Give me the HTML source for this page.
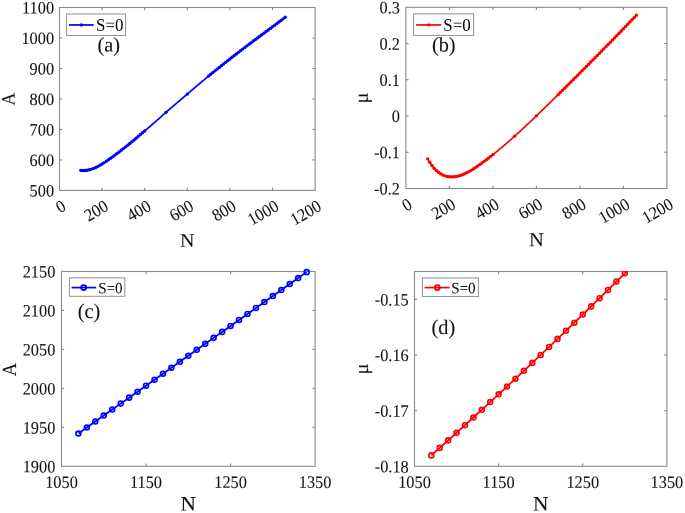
<!DOCTYPE html>
<html><head><meta charset="utf-8"><style>
html,body{margin:0;padding:0;background:#fff;}
svg{display:block;}
</style></head><body>
<svg style="will-change:transform" width="685" height="513" viewBox="0 0 685 513" font-family='"Liberation Serif", serif'>
<rect width="685" height="513" fill="#fff"/>
<g stroke="#858585" stroke-width="1.1">
<line x1="102.10" y1="190.40" x2="102.10" y2="187.70"/>
<line x1="102.10" y1="7.50" x2="102.10" y2="10.20"/>
<line x1="144.70" y1="190.40" x2="144.70" y2="187.70"/>
<line x1="144.70" y1="7.50" x2="144.70" y2="10.20"/>
<line x1="187.30" y1="190.40" x2="187.30" y2="187.70"/>
<line x1="187.30" y1="7.50" x2="187.30" y2="10.20"/>
<line x1="229.90" y1="190.40" x2="229.90" y2="187.70"/>
<line x1="229.90" y1="7.50" x2="229.90" y2="10.20"/>
<line x1="272.50" y1="190.40" x2="272.50" y2="187.70"/>
<line x1="272.50" y1="7.50" x2="272.50" y2="10.20"/>
<line x1="59.50" y1="159.92" x2="62.20" y2="159.92"/>
<line x1="315.10" y1="159.92" x2="312.40" y2="159.92"/>
<line x1="59.50" y1="129.43" x2="62.20" y2="129.43"/>
<line x1="315.10" y1="129.43" x2="312.40" y2="129.43"/>
<line x1="59.50" y1="98.95" x2="62.20" y2="98.95"/>
<line x1="315.10" y1="98.95" x2="312.40" y2="98.95"/>
<line x1="59.50" y1="68.47" x2="62.20" y2="68.47"/>
<line x1="315.10" y1="68.47" x2="312.40" y2="68.47"/>
<line x1="59.50" y1="37.98" x2="62.20" y2="37.98"/>
<line x1="315.10" y1="37.98" x2="312.40" y2="37.98"/>
</g>
<rect x="59.50" y="7.50" width="255.60" height="182.90" fill="none" stroke="#8a8a8a" stroke-width="1.1"/>
<g stroke="#858585" stroke-width="1.1">
<line x1="449.40" y1="188.50" x2="449.40" y2="185.80"/>
<line x1="449.40" y1="7.30" x2="449.40" y2="10.00"/>
<line x1="492.90" y1="188.50" x2="492.90" y2="185.80"/>
<line x1="492.90" y1="7.30" x2="492.90" y2="10.00"/>
<line x1="536.40" y1="188.50" x2="536.40" y2="185.80"/>
<line x1="536.40" y1="7.30" x2="536.40" y2="10.00"/>
<line x1="579.90" y1="188.50" x2="579.90" y2="185.80"/>
<line x1="579.90" y1="7.30" x2="579.90" y2="10.00"/>
<line x1="623.40" y1="188.50" x2="623.40" y2="185.80"/>
<line x1="623.40" y1="7.30" x2="623.40" y2="10.00"/>
<line x1="405.90" y1="152.26" x2="408.60" y2="152.26"/>
<line x1="666.90" y1="152.26" x2="664.20" y2="152.26"/>
<line x1="405.90" y1="116.02" x2="408.60" y2="116.02"/>
<line x1="666.90" y1="116.02" x2="664.20" y2="116.02"/>
<line x1="405.90" y1="79.78" x2="408.60" y2="79.78"/>
<line x1="666.90" y1="79.78" x2="664.20" y2="79.78"/>
<line x1="405.90" y1="43.54" x2="408.60" y2="43.54"/>
<line x1="666.90" y1="43.54" x2="664.20" y2="43.54"/>
</g>
<rect x="405.90" y="7.30" width="261.00" height="181.20" fill="none" stroke="#8a8a8a" stroke-width="1.1"/>
<g stroke="#858585" stroke-width="1.1">
<line x1="146.03" y1="466.30" x2="146.03" y2="463.60"/>
<line x1="146.03" y1="271.50" x2="146.03" y2="274.20"/>
<line x1="230.57" y1="466.30" x2="230.57" y2="463.60"/>
<line x1="230.57" y1="271.50" x2="230.57" y2="274.20"/>
<line x1="61.50" y1="427.34" x2="64.20" y2="427.34"/>
<line x1="315.10" y1="427.34" x2="312.40" y2="427.34"/>
<line x1="61.50" y1="388.38" x2="64.20" y2="388.38"/>
<line x1="315.10" y1="388.38" x2="312.40" y2="388.38"/>
<line x1="61.50" y1="349.42" x2="64.20" y2="349.42"/>
<line x1="315.10" y1="349.42" x2="312.40" y2="349.42"/>
<line x1="61.50" y1="310.46" x2="64.20" y2="310.46"/>
<line x1="315.10" y1="310.46" x2="312.40" y2="310.46"/>
</g>
<rect x="61.50" y="271.50" width="253.60" height="194.80" fill="none" stroke="#8a8a8a" stroke-width="1.1"/>
<g stroke="#858585" stroke-width="1.1">
<line x1="498.63" y1="466.30" x2="498.63" y2="463.60"/>
<line x1="498.63" y1="271.50" x2="498.63" y2="274.20"/>
<line x1="582.77" y1="466.30" x2="582.77" y2="463.60"/>
<line x1="582.77" y1="271.50" x2="582.77" y2="274.20"/>
<line x1="414.50" y1="410.64" x2="417.20" y2="410.64"/>
<line x1="666.90" y1="410.64" x2="664.20" y2="410.64"/>
<line x1="414.50" y1="354.99" x2="417.20" y2="354.99"/>
<line x1="666.90" y1="354.99" x2="664.20" y2="354.99"/>
<line x1="414.50" y1="299.33" x2="417.20" y2="299.33"/>
<line x1="666.90" y1="299.33" x2="664.20" y2="299.33"/>
</g>
<rect x="414.50" y="271.50" width="252.40" height="194.80" fill="none" stroke="#8a8a8a" stroke-width="1.1"/>
<polyline points="80.80,170.36 81.31,170.42 81.82,170.47 82.34,170.51 82.85,170.53 83.36,170.54 83.87,170.54 84.39,170.52 84.90,170.50 85.41,170.46 85.92,170.40 86.44,170.34 86.95,170.26 87.46,170.17 87.97,170.08 88.49,169.97 89.00,169.85 89.51,169.72 90.02,169.58 90.54,169.43 91.05,169.27 91.56,169.10 92.07,168.92 92.59,168.74 93.10,168.54 93.61,168.34 94.12,168.13 94.64,167.91 95.15,167.68 95.66,167.45 96.17,167.21 96.69,166.96 97.20,166.71 97.71,166.45 98.22,166.18 98.74,165.91 99.25,165.64 99.76,165.35 100.27,165.06 100.79,164.75 101.30,164.44 101.81,164.12 102.32,163.80 102.84,163.47 103.35,163.15 103.86,162.82 104.37,162.48 104.89,162.15 105.40,161.81 105.91,161.46 106.42,161.12 106.94,160.77 107.45,160.43 107.96,160.08 108.47,159.72 108.99,159.37 109.50,159.01 110.01,158.65 110.52,158.29 111.04,157.93 111.55,157.56 112.06,157.19 112.57,156.83 113.09,156.45 113.60,156.08 114.11,155.71 114.62,155.33 115.14,154.95 115.65,154.57 116.16,154.19 116.67,153.80 117.19,153.42 117.70,153.03 118.21,152.64 118.72,152.25 119.24,151.86 119.75,151.46 120.26,151.07 120.77,150.67 121.29,150.27 121.80,149.87 122.31,149.47 122.82,149.07 123.34,148.66 123.85,148.26 124.36,147.85 124.87,147.44 125.39,147.03 125.90,146.62 126.41,146.21 126.92,145.80 127.44,145.38 127.95,144.97 128.46,144.55 128.97,144.13 129.49,143.72 130.00,143.30 130.51,142.88 131.02,142.45 131.54,142.03 132.05,141.61 132.56,141.18 133.07,140.76 133.59,140.33 134.10,139.91 134.61,139.48 135.12,139.05 135.64,138.62 136.15,138.19 136.66,137.76 137.17,137.33 137.69,136.90 138.20,136.47 138.71,136.04 139.22,135.60 139.74,135.17 140.25,134.74 140.76,134.30 141.27,133.87 141.79,133.43 142.30,133.00 142.81,132.56 143.32,132.12 143.84,131.69 144.35,131.25 144.86,130.81 145.37,130.37 145.89,129.93 146.40,129.49 146.91,129.06 147.42,128.62 147.94,128.18 148.45,127.74 148.96,127.29 149.47,126.85 149.98,126.41 150.50,125.97 151.01,125.53 151.52,125.09 152.03,124.64 152.55,124.20 153.06,123.76 153.57,123.32 154.08,122.87 154.60,122.43 155.11,121.98 155.62,121.54 156.13,121.09 156.65,120.63 157.16,120.18 157.67,119.73 158.18,119.28 158.70,118.83 159.21,118.37 159.72,117.92 160.23,117.47 160.75,117.02 161.26,116.56 161.77,116.11 162.28,115.66 162.80,115.20 163.31,114.75 163.82,114.30 164.33,113.84 164.85,113.39 165.36,112.94 165.87,112.48 166.38,112.03 166.90,111.58 167.41,111.12 167.92,110.67 168.43,110.22 168.95,109.76 169.46,109.31 169.97,108.85 170.48,108.41 171.00,107.97 171.51,107.53 172.02,107.09 172.53,106.66 173.05,106.22 173.56,105.78 174.07,105.34 174.58,104.91 175.10,104.47 175.61,104.03 176.12,103.60 176.63,103.16 177.15,102.72 177.66,102.29 178.17,101.85 178.68,101.41 179.20,100.98 179.71,100.54 180.22,100.10 180.73,99.67 181.25,99.23 181.76,98.80 182.27,98.36 182.78,97.93 183.30,97.49 183.81,97.06 184.32,96.63 184.83,96.19 185.35,95.76 185.86,95.33 186.37,94.89 186.88,94.46 187.40,94.03 187.91,93.58 188.42,93.14 188.93,92.70 189.45,92.26 189.96,91.82 190.47,91.38 190.98,90.93 191.50,90.49 192.01,90.05 192.52,89.62 193.03,89.18 193.55,88.74 194.06,88.30 194.57,87.86 195.08,87.42 195.60,86.99 196.11,86.55 196.62,86.11 197.13,85.68 197.65,85.24 198.16,84.81 198.67,84.38 199.18,83.94 199.70,83.51 200.21,83.08 200.72,82.64 201.23,82.21 201.75,81.78 202.26,81.35 202.77,80.92 203.28,80.49 203.80,80.06 204.31,79.63 204.82,79.21 205.33,78.78 205.85,78.35 206.36,77.93 206.87,77.50 207.38,77.08 207.90,76.65 208.41,76.23 208.92,75.81 209.43,75.38 209.95,74.96 210.46,74.54 210.97,74.12 211.48,73.70 212.00,73.28 212.51,72.86 213.02,72.45 213.53,72.03 214.05,71.61 214.56,71.20 215.07,70.78 215.58,70.37 216.10,69.95 216.61,69.54 217.12,69.13 217.63,68.71 218.14,68.30 218.66,67.89 219.17,67.48 219.68,67.07 220.19,66.66 220.71,66.25 221.22,65.84 221.73,65.43 222.24,65.02 222.76,64.62 223.27,64.21 223.78,63.80 224.29,63.39 224.81,62.99 225.32,62.58 225.83,62.18 226.34,61.77 226.86,61.37 227.37,60.96 227.88,60.56 228.39,60.16 228.91,59.76 229.42,59.35 229.93,58.95 230.44,58.55 230.96,58.15 231.47,57.75 231.98,57.35 232.49,56.95 233.01,56.55 233.52,56.16 234.03,55.76 234.54,55.36 235.06,54.96 235.57,54.57 236.08,54.17 236.59,53.78 237.11,53.38 237.62,52.99 238.13,52.59 238.64,52.20 239.16,51.80 239.67,51.41 240.18,51.02 240.69,50.63 241.21,50.23 241.72,49.84 242.23,49.45 242.74,49.06 243.26,48.67 243.77,48.28 244.28,47.89 244.79,47.50 245.31,47.11 245.82,46.72 246.33,46.33 246.84,45.95 247.36,45.56 247.87,45.17 248.38,44.78 248.89,44.40 249.41,44.01 249.92,43.63 250.43,43.24 250.94,42.85 251.46,42.47 251.97,42.08 252.48,41.70 252.99,41.32 253.51,40.93 254.02,40.55 254.53,40.16 255.04,39.78 255.56,39.40 256.07,39.02 256.58,38.63 257.09,38.25 257.61,37.87 258.12,37.49 258.63,37.11 259.14,36.73 259.66,36.35 260.17,35.97 260.68,35.58 261.19,35.20 261.71,34.82 262.22,34.45 262.73,34.07 263.24,33.69 263.76,33.31 264.27,32.93 264.78,32.55 265.29,32.17 265.81,31.79 266.32,31.41 266.83,31.03 267.34,30.64 267.86,30.26 268.37,29.87 268.88,29.49 269.39,29.11 269.91,28.72 270.42,28.34 270.93,27.96 271.44,27.58 271.96,27.19 272.47,26.81 272.98,26.43 273.49,26.05 274.01,25.66 274.52,25.28 275.03,24.90 275.54,24.52 276.06,24.14 276.57,23.76 277.08,23.37 277.59,22.99 278.11,22.61 278.62,22.23 279.13,21.85 279.64,21.47 280.16,21.09 280.67,20.71 281.18,20.33 281.69,19.95 282.21,19.56 282.72,19.18 283.23,18.80 283.74,18.42 284.26,18.04 284.77,17.66 285.28,17.28" fill="none" stroke="#0000ff" stroke-width="1.7" stroke-linejoin="round" stroke-linecap="round"/>
<g fill="#0000ff"><circle cx="80.80" cy="170.36" r="1.7"/><circle cx="82.93" cy="170.54" r="1.7"/><circle cx="85.06" cy="170.48" r="1.7"/><circle cx="87.19" cy="170.22" r="1.7"/><circle cx="89.32" cy="169.77" r="1.7"/><circle cx="91.45" cy="169.14" r="1.7"/><circle cx="93.58" cy="168.35" r="1.7"/><circle cx="95.71" cy="167.43" r="1.7"/><circle cx="97.84" cy="166.38" r="1.7"/><circle cx="99.97" cy="165.24" r="1.7"/><circle cx="102.10" cy="163.94" r="1.7"/><circle cx="104.23" cy="162.58" r="1.7"/><circle cx="106.36" cy="161.16" r="1.7"/><circle cx="108.49" cy="159.71" r="1.7"/><circle cx="110.62" cy="158.22" r="1.7"/><circle cx="112.75" cy="156.70" r="1.7"/><circle cx="114.88" cy="155.14" r="1.7"/><circle cx="117.01" cy="153.55" r="1.7"/><circle cx="119.14" cy="151.93" r="1.7"/><circle cx="121.27" cy="150.29" r="1.7"/><circle cx="123.40" cy="148.61" r="1.7"/><circle cx="125.53" cy="146.92" r="1.7"/><circle cx="127.66" cy="145.20" r="1.7"/><circle cx="129.79" cy="143.47" r="1.7"/><circle cx="131.92" cy="141.71" r="1.7"/><circle cx="134.05" cy="139.95" r="1.7"/><circle cx="136.18" cy="138.17" r="1.7"/><circle cx="138.31" cy="136.37" r="1.7"/><circle cx="140.44" cy="134.57" r="1.7"/><circle cx="142.57" cy="132.76" r="1.7"/><circle cx="144.70" cy="130.95" r="1.7"/><circle cx="166.00" cy="112.37" r="1.7"/><circle cx="187.30" cy="94.11" r="1.7"/><circle cx="208.60" cy="76.07" r="1.7"/><circle cx="210.73" cy="74.32" r="1.7"/><circle cx="212.86" cy="72.58" r="1.7"/><circle cx="214.99" cy="70.85" r="1.7"/><circle cx="217.12" cy="69.13" r="1.7"/><circle cx="219.25" cy="67.42" r="1.7"/><circle cx="221.38" cy="65.71" r="1.7"/><circle cx="223.51" cy="64.02" r="1.7"/><circle cx="225.64" cy="62.33" r="1.7"/><circle cx="227.77" cy="60.65" r="1.7"/><circle cx="229.90" cy="58.98" r="1.7"/><circle cx="232.03" cy="57.31" r="1.7"/><circle cx="234.16" cy="55.66" r="1.7"/><circle cx="236.29" cy="54.01" r="1.7"/><circle cx="238.42" cy="52.37" r="1.7"/><circle cx="240.55" cy="50.74" r="1.7"/><circle cx="242.68" cy="49.11" r="1.7"/><circle cx="244.81" cy="47.49" r="1.7"/><circle cx="246.94" cy="45.87" r="1.7"/><circle cx="249.07" cy="44.26" r="1.7"/><circle cx="251.20" cy="42.66" r="1.7"/><circle cx="253.33" cy="41.06" r="1.7"/><circle cx="255.46" cy="39.47" r="1.7"/><circle cx="257.59" cy="37.88" r="1.7"/><circle cx="259.72" cy="36.30" r="1.7"/><circle cx="261.85" cy="34.72" r="1.7"/><circle cx="263.98" cy="33.14" r="1.7"/><circle cx="266.11" cy="31.57" r="1.7"/><circle cx="268.24" cy="29.97" r="1.7"/><circle cx="270.37" cy="28.38" r="1.7"/><circle cx="272.50" cy="26.79" r="1.7"/><circle cx="274.63" cy="25.20" r="1.7"/><circle cx="276.76" cy="23.61" r="1.7"/><circle cx="278.89" cy="22.03" r="1.7"/><circle cx="281.02" cy="20.44" r="1.7"/><circle cx="283.15" cy="18.86" r="1.7"/><circle cx="285.28" cy="17.28" r="1.7"/></g>
<polyline points="427.65,158.84 428.17,159.75 428.70,160.62 429.22,161.47 429.74,162.29 430.27,163.08 430.79,163.84 431.31,164.58 431.84,165.30 432.36,165.98 432.88,166.65 433.41,167.28 433.93,167.90 434.45,168.49 434.98,169.05 435.50,169.59 436.02,170.11 436.55,170.61 437.07,171.09 437.59,171.54 438.12,171.97 438.64,172.38 439.16,172.77 439.69,173.14 440.21,173.49 440.73,173.82 441.26,174.13 441.78,174.43 442.30,174.70 442.83,174.96 443.35,175.20 443.87,175.42 444.40,175.62 444.92,175.81 445.44,175.98 445.97,176.14 446.49,176.28 447.01,176.40 447.54,176.51 448.06,176.61 448.58,176.69 449.11,176.76 449.63,176.82 450.15,176.86 450.68,176.89 451.20,176.90 451.72,176.91 452.25,176.90 452.77,176.88 453.29,176.85 453.82,176.81 454.34,176.76 454.86,176.70 455.39,176.62 455.91,176.54 456.43,176.45 456.96,176.34 457.48,176.23 458.00,176.10 458.53,175.97 459.05,175.83 459.57,175.68 460.10,175.51 460.62,175.34 461.14,175.17 461.67,174.98 462.19,174.79 462.71,174.58 463.23,174.37 463.76,174.15 464.28,173.93 464.80,173.69 465.33,173.45 465.85,173.21 466.37,172.95 466.90,172.69 467.42,172.43 467.94,172.15 468.47,171.87 468.99,171.59 469.51,171.30 470.04,171.00 470.56,170.70 471.08,170.40 471.61,170.08 472.13,169.75 472.65,169.42 473.18,169.09 473.70,168.75 474.22,168.40 474.75,168.06 475.27,167.71 475.79,167.35 476.32,167.00 476.84,166.64 477.36,166.28 477.89,165.91 478.41,165.54 478.93,165.17 479.46,164.80 479.98,164.43 480.50,164.05 481.03,163.67 481.55,163.29 482.07,162.91 482.60,162.53 483.12,162.14 483.64,161.76 484.17,161.37 484.69,160.98 485.21,160.59 485.74,160.19 486.26,159.80 486.78,159.40 487.31,159.00 487.83,158.60 488.35,158.20 488.88,157.80 489.40,157.39 489.92,156.98 490.45,156.57 490.97,156.16 491.49,155.75 492.02,155.34 492.54,154.93 493.06,154.51 493.59,154.09 494.11,153.67 494.63,153.25 495.16,152.83 495.68,152.40 496.20,151.98 496.73,151.55 497.25,151.12 497.77,150.69 498.30,150.26 498.82,149.83 499.34,149.40 499.87,148.96 500.39,148.52 500.91,148.09 501.44,147.65 501.96,147.21 502.48,146.76 503.01,146.32 503.53,145.88 504.05,145.43 504.58,144.98 505.10,144.54 505.62,144.09 506.15,143.64 506.67,143.19 507.19,142.73 507.72,142.28 508.24,141.83 508.76,141.37 509.29,140.91 509.81,140.46 510.33,140.00 510.86,139.54 511.38,139.07 511.90,138.61 512.43,138.15 512.95,137.68 513.47,137.21 514.00,136.75 514.52,136.28 515.04,135.81 515.57,135.34 516.09,134.87 516.61,134.39 517.14,133.92 517.66,133.44 518.18,132.97 518.71,132.49 519.23,132.01 519.75,131.54 520.28,131.06 520.80,130.57 521.32,130.09 521.85,129.61 522.37,129.13 522.89,128.64 523.42,128.16 523.94,127.67 524.46,127.18 524.99,126.70 525.51,126.21 526.03,125.72 526.56,125.23 527.08,124.73 527.60,124.24 528.13,123.75 528.65,123.26 529.17,122.76 529.70,122.27 530.22,121.77 530.74,121.27 531.27,120.78 531.79,120.28 532.31,119.78 532.83,119.28 533.36,118.78 533.88,118.28 534.40,117.78 534.93,117.27 535.45,116.77 535.97,116.27 536.50,115.76 537.02,115.26 537.54,114.76 538.07,114.26 538.59,113.75 539.11,113.25 539.64,112.74 540.16,112.24 540.68,111.73 541.21,111.23 541.73,110.72 542.25,110.21 542.78,109.71 543.30,109.20 543.82,108.69 544.35,108.18 544.87,107.67 545.39,107.16 545.92,106.65 546.44,106.14 546.96,105.63 547.49,105.12 548.01,104.60 548.53,104.09 549.06,103.58 549.58,103.07 550.10,102.55 550.63,102.04 551.15,101.53 551.67,101.01 552.20,100.50 552.72,99.98 553.24,99.47 553.77,98.95 554.29,98.44 554.81,97.92 555.34,97.40 555.86,96.89 556.38,96.37 556.91,95.85 557.43,95.34 557.95,94.82 558.48,94.30 559.00,93.79 559.52,93.27 560.05,92.75 560.57,92.23 561.09,91.72 561.62,91.20 562.14,90.68 562.66,90.16 563.19,89.64 563.71,89.12 564.23,88.60 564.76,88.09 565.28,87.57 565.80,87.05 566.33,86.53 566.85,86.01 567.37,85.49 567.90,84.97 568.42,84.45 568.94,83.93 569.47,83.41 569.99,82.89 570.51,82.37 571.04,81.85 571.56,81.32 572.08,80.80 572.61,80.28 573.13,79.76 573.65,79.24 574.18,78.72 574.70,78.20 575.22,77.67 575.75,77.15 576.27,76.63 576.79,76.11 577.32,75.58 577.84,75.06 578.36,74.54 578.89,74.01 579.41,73.49 579.93,72.97 580.46,72.44 580.98,71.92 581.50,71.39 582.03,70.87 582.55,70.34 583.07,69.82 583.60,69.29 584.12,68.77 584.64,68.24 585.17,67.72 585.69,67.19 586.21,66.67 586.74,66.14 587.26,65.62 587.78,65.09 588.31,64.56 588.83,64.04 589.35,63.51 589.88,62.98 590.40,62.45 590.92,61.93 591.45,61.40 591.97,60.87 592.49,60.34 593.02,59.81 593.54,59.29 594.06,58.76 594.59,58.23 595.11,57.70 595.63,57.17 596.16,56.64 596.68,56.11 597.20,55.58 597.73,55.05 598.25,54.52 598.77,53.99 599.30,53.46 599.82,52.93 600.34,52.40 600.87,51.87 601.39,51.34 601.91,50.81 602.43,50.27 602.96,49.74 603.48,49.21 604.00,48.68 604.53,48.15 605.05,47.61 605.57,47.08 606.10,46.55 606.62,46.01 607.14,45.48 607.67,44.95 608.19,44.41 608.71,43.88 609.24,43.34 609.76,42.81 610.28,42.28 610.81,41.74 611.33,41.21 611.85,40.67 612.38,40.13 612.90,39.60 613.42,39.06 613.95,38.53 614.47,37.99 614.99,37.45 615.52,36.92 616.04,36.38 616.56,35.84 617.09,35.31 617.61,34.77 618.13,34.23 618.66,33.69 619.18,33.15 619.70,32.62 620.23,32.08 620.75,31.54 621.27,31.00 621.80,30.46 622.32,29.92 622.84,29.38 623.37,28.84 623.89,28.30 624.41,27.76 624.94,27.22 625.46,26.68 625.98,26.14 626.51,25.60 627.03,25.05 627.55,24.51 628.08,23.97 628.60,23.43 629.12,22.89 629.65,22.34 630.17,21.80 630.69,21.26 631.22,20.71 631.74,20.17 632.26,19.63 632.79,19.08 633.31,18.54 633.83,17.99 634.36,17.45 634.88,16.90 635.40,16.36 635.93,15.81 636.45,15.27" fill="none" stroke="#ff0000" stroke-width="1.7" stroke-linejoin="round" stroke-linecap="round"/>
<g fill="#ff0000"><circle cx="427.65" cy="158.84" r="1.7"/><circle cx="429.82" cy="162.41" r="1.7"/><circle cx="432.00" cy="165.51" r="1.7"/><circle cx="434.17" cy="168.18" r="1.7"/><circle cx="436.35" cy="170.43" r="1.7"/><circle cx="438.52" cy="172.29" r="1.7"/><circle cx="440.70" cy="173.80" r="1.7"/><circle cx="442.88" cy="174.98" r="1.7"/><circle cx="445.05" cy="175.85" r="1.7"/><circle cx="447.22" cy="176.45" r="1.7"/><circle cx="449.40" cy="176.80" r="1.7"/><circle cx="451.57" cy="176.91" r="1.7"/><circle cx="453.75" cy="176.82" r="1.7"/><circle cx="455.92" cy="176.54" r="1.7"/><circle cx="458.10" cy="176.08" r="1.7"/><circle cx="460.27" cy="175.46" r="1.7"/><circle cx="462.45" cy="174.69" r="1.7"/><circle cx="464.62" cy="173.78" r="1.7"/><circle cx="466.80" cy="172.74" r="1.7"/><circle cx="468.97" cy="171.60" r="1.7"/><circle cx="471.15" cy="170.36" r="1.7"/><circle cx="473.32" cy="168.99" r="1.7"/><circle cx="475.50" cy="167.55" r="1.7"/><circle cx="477.67" cy="166.06" r="1.7"/><circle cx="479.85" cy="164.52" r="1.7"/><circle cx="482.02" cy="162.95" r="1.7"/><circle cx="484.20" cy="161.34" r="1.7"/><circle cx="486.38" cy="159.71" r="1.7"/><circle cx="488.55" cy="158.05" r="1.7"/><circle cx="490.72" cy="156.36" r="1.7"/><circle cx="492.90" cy="154.64" r="1.7"/><circle cx="514.65" cy="136.16" r="1.7"/><circle cx="536.40" cy="115.86" r="1.7"/><circle cx="558.15" cy="94.63" r="1.7"/><circle cx="560.33" cy="92.48" r="1.7"/><circle cx="562.50" cy="90.32" r="1.7"/><circle cx="564.67" cy="88.17" r="1.7"/><circle cx="566.85" cy="86.01" r="1.7"/><circle cx="569.02" cy="83.85" r="1.7"/><circle cx="571.20" cy="81.68" r="1.7"/><circle cx="573.38" cy="79.52" r="1.7"/><circle cx="575.55" cy="77.35" r="1.7"/><circle cx="577.72" cy="75.17" r="1.7"/><circle cx="579.90" cy="73.00" r="1.7"/><circle cx="582.08" cy="70.82" r="1.7"/><circle cx="584.25" cy="68.64" r="1.7"/><circle cx="586.42" cy="66.45" r="1.7"/><circle cx="588.60" cy="64.27" r="1.7"/><circle cx="590.77" cy="62.07" r="1.7"/><circle cx="592.95" cy="59.88" r="1.7"/><circle cx="595.12" cy="57.68" r="1.7"/><circle cx="597.30" cy="55.48" r="1.7"/><circle cx="599.48" cy="53.28" r="1.7"/><circle cx="601.65" cy="51.07" r="1.7"/><circle cx="603.82" cy="48.86" r="1.7"/><circle cx="606.00" cy="46.65" r="1.7"/><circle cx="608.17" cy="44.43" r="1.7"/><circle cx="610.35" cy="42.21" r="1.7"/><circle cx="612.52" cy="39.98" r="1.7"/><circle cx="614.70" cy="37.76" r="1.7"/><circle cx="616.88" cy="35.52" r="1.7"/><circle cx="619.05" cy="33.29" r="1.7"/><circle cx="621.22" cy="31.05" r="1.7"/><circle cx="623.40" cy="28.81" r="1.7"/><circle cx="625.58" cy="26.56" r="1.7"/><circle cx="627.75" cy="24.31" r="1.7"/><circle cx="629.92" cy="22.06" r="1.7"/><circle cx="632.10" cy="19.80" r="1.7"/><circle cx="634.27" cy="17.53" r="1.7"/><circle cx="636.45" cy="15.27" r="1.7"/></g>
<polyline points="78.41,433.50 86.86,427.52 95.31,421.54 103.77,415.57 112.22,409.59 120.67,403.61 129.13,397.64 137.58,391.66 146.03,385.68 154.49,379.71 162.94,373.73 171.39,367.75 179.85,361.78 188.30,355.80 196.75,349.83 205.21,343.85 213.66,337.87 222.11,331.90 230.57,325.92 239.02,319.94 247.47,313.97 255.93,307.99 264.38,302.01 272.83,296.04 281.29,290.06 289.74,284.08 298.19,278.11 306.65,272.13" fill="none" stroke="#0000ff" stroke-width="1.8"/>
<g fill="none" stroke="#0000ff" stroke-width="1.65"><circle cx="78.41" cy="433.50" r="2.45"/><circle cx="86.86" cy="427.52" r="2.45"/><circle cx="95.31" cy="421.54" r="2.45"/><circle cx="103.77" cy="415.57" r="2.45"/><circle cx="112.22" cy="409.59" r="2.45"/><circle cx="120.67" cy="403.61" r="2.45"/><circle cx="129.13" cy="397.64" r="2.45"/><circle cx="137.58" cy="391.66" r="2.45"/><circle cx="146.03" cy="385.68" r="2.45"/><circle cx="154.49" cy="379.71" r="2.45"/><circle cx="162.94" cy="373.73" r="2.45"/><circle cx="171.39" cy="367.75" r="2.45"/><circle cx="179.85" cy="361.78" r="2.45"/><circle cx="188.30" cy="355.80" r="2.45"/><circle cx="196.75" cy="349.83" r="2.45"/><circle cx="205.21" cy="343.85" r="2.45"/><circle cx="213.66" cy="337.87" r="2.45"/><circle cx="222.11" cy="331.90" r="2.45"/><circle cx="230.57" cy="325.92" r="2.45"/><circle cx="239.02" cy="319.94" r="2.45"/><circle cx="247.47" cy="313.97" r="2.45"/><circle cx="255.93" cy="307.99" r="2.45"/><circle cx="264.38" cy="302.01" r="2.45"/><circle cx="272.83" cy="296.04" r="2.45"/><circle cx="281.29" cy="290.06" r="2.45"/><circle cx="289.74" cy="284.08" r="2.45"/><circle cx="298.19" cy="278.11" r="2.45"/><circle cx="306.65" cy="272.13" r="2.45"/></g>
<clipPath id="cd"><rect x="414.5" y="270.9" width="252.39999999999998" height="195.4"/></clipPath>
<g clip-path="url(#cd)">
<polyline points="431.33,455.39 439.74,447.89 448.15,440.35 456.57,432.78 464.98,425.16 473.39,417.51 481.81,409.82 490.22,402.09 498.63,394.33 507.05,386.52 515.46,378.68 523.87,370.80 532.29,362.88 540.70,354.93 549.11,346.93 557.53,338.90 565.94,330.83 574.35,322.72 582.77,314.58 591.18,306.39 599.59,298.17 608.01,289.91 616.42,281.61 624.83,273.28 633.25,264.90 641.66,256.49 650.07,248.04 658.49,239.55 666.90,231.03" fill="none" stroke="#ff0000" stroke-width="1.8"/>
<g fill="none" stroke="#ff0000" stroke-width="1.65"><circle cx="431.33" cy="455.39" r="2.45"/><circle cx="439.74" cy="447.89" r="2.45"/><circle cx="448.15" cy="440.35" r="2.45"/><circle cx="456.57" cy="432.78" r="2.45"/><circle cx="464.98" cy="425.16" r="2.45"/><circle cx="473.39" cy="417.51" r="2.45"/><circle cx="481.81" cy="409.82" r="2.45"/><circle cx="490.22" cy="402.09" r="2.45"/><circle cx="498.63" cy="394.33" r="2.45"/><circle cx="507.05" cy="386.52" r="2.45"/><circle cx="515.46" cy="378.68" r="2.45"/><circle cx="523.87" cy="370.80" r="2.45"/><circle cx="532.29" cy="362.88" r="2.45"/><circle cx="540.70" cy="354.93" r="2.45"/><circle cx="549.11" cy="346.93" r="2.45"/><circle cx="557.53" cy="338.90" r="2.45"/><circle cx="565.94" cy="330.83" r="2.45"/><circle cx="574.35" cy="322.72" r="2.45"/><circle cx="582.77" cy="314.58" r="2.45"/><circle cx="591.18" cy="306.39" r="2.45"/><circle cx="599.59" cy="298.17" r="2.45"/><circle cx="608.01" cy="289.91" r="2.45"/><circle cx="616.42" cy="281.61" r="2.45"/><circle cx="624.83" cy="273.28" r="2.45"/></g>
</g>
<g fill="#111111" stroke="#111111" stroke-width="0.08">
<text transform="translate(54.05 190.85) rotate(0.15) scale(0.937 1)" font-size="17.4" text-anchor="end" dominant-baseline="central">500</text>
<text transform="translate(54.05 160.37) rotate(0.15) scale(0.937 1)" font-size="17.4" text-anchor="end" dominant-baseline="central">600</text>
<text transform="translate(54.05 129.88) rotate(0.15) scale(0.937 1)" font-size="17.4" text-anchor="end" dominant-baseline="central">700</text>
<text transform="translate(54.05 99.40) rotate(0.15) scale(0.937 1)" font-size="17.4" text-anchor="end" dominant-baseline="central">800</text>
<text transform="translate(54.05 68.92) rotate(0.15) scale(0.937 1)" font-size="17.4" text-anchor="end" dominant-baseline="central">900</text>
<text transform="translate(54.05 38.43) rotate(0.15) scale(0.937 1)" font-size="17.4" text-anchor="end" dominant-baseline="central">1000</text>
<text transform="translate(54.05 7.95) rotate(0.15) scale(0.937 1)" font-size="17.4" text-anchor="end" dominant-baseline="central">1100</text>
<text transform="translate(399.90 188.95) rotate(0.15) scale(0.937 1)" font-size="17.4" text-anchor="end" dominant-baseline="central">-0.2</text>
<text transform="translate(399.90 152.71) rotate(0.15) scale(0.937 1)" font-size="17.4" text-anchor="end" dominant-baseline="central">-0.1</text>
<text transform="translate(399.90 116.47) rotate(0.15) scale(0.937 1)" font-size="17.4" text-anchor="end" dominant-baseline="central">0</text>
<text transform="translate(399.90 80.23) rotate(0.15) scale(0.937 1)" font-size="17.4" text-anchor="end" dominant-baseline="central">0.1</text>
<text transform="translate(399.90 43.99) rotate(0.15) scale(0.937 1)" font-size="17.4" text-anchor="end" dominant-baseline="central">0.2</text>
<text transform="translate(399.90 7.75) rotate(0.15) scale(0.937 1)" font-size="17.4" text-anchor="end" dominant-baseline="central">0.3</text>
<text transform="translate(55.30 466.75) rotate(0.15) scale(0.937 1)" font-size="17.4" text-anchor="end" dominant-baseline="central">1900</text>
<text transform="translate(55.30 427.79) rotate(0.15) scale(0.937 1)" font-size="17.4" text-anchor="end" dominant-baseline="central">1950</text>
<text transform="translate(55.30 388.83) rotate(0.15) scale(0.937 1)" font-size="17.4" text-anchor="end" dominant-baseline="central">2000</text>
<text transform="translate(55.30 349.87) rotate(0.15) scale(0.937 1)" font-size="17.4" text-anchor="end" dominant-baseline="central">2050</text>
<text transform="translate(55.30 310.91) rotate(0.15) scale(0.937 1)" font-size="17.4" text-anchor="end" dominant-baseline="central">2100</text>
<text transform="translate(55.30 271.95) rotate(0.15) scale(0.937 1)" font-size="17.4" text-anchor="end" dominant-baseline="central">2150</text>
<text transform="translate(408.70 466.75) rotate(0.15) scale(0.937 1)" font-size="17.4" text-anchor="end" dominant-baseline="central">-0.18</text>
<text transform="translate(408.70 411.09) rotate(0.15) scale(0.937 1)" font-size="17.4" text-anchor="end" dominant-baseline="central">-0.17</text>
<text transform="translate(408.70 355.44) rotate(0.15) scale(0.937 1)" font-size="17.4" text-anchor="end" dominant-baseline="central">-0.16</text>
<text transform="translate(408.70 299.78) rotate(0.15) scale(0.937 1)" font-size="17.4" text-anchor="end" dominant-baseline="central">-0.15</text>
<text transform="translate(64.20 204.60) rotate(-30) scale(0.937 1)" font-size="17.4" text-anchor="end" dominant-baseline="central">0</text>
<text transform="translate(106.80 204.60) rotate(-30) scale(0.937 1)" font-size="17.4" text-anchor="end" dominant-baseline="central">200</text>
<text transform="translate(149.40 204.60) rotate(-30) scale(0.937 1)" font-size="17.4" text-anchor="end" dominant-baseline="central">400</text>
<text transform="translate(192.00 204.60) rotate(-30) scale(0.937 1)" font-size="17.4" text-anchor="end" dominant-baseline="central">600</text>
<text transform="translate(234.60 204.60) rotate(-30) scale(0.937 1)" font-size="17.4" text-anchor="end" dominant-baseline="central">800</text>
<text transform="translate(277.20 204.60) rotate(-30) scale(0.937 1)" font-size="17.4" text-anchor="end" dominant-baseline="central">1000</text>
<text transform="translate(319.80 204.60) rotate(-30) scale(0.937 1)" font-size="17.4" text-anchor="end" dominant-baseline="central">1200</text>
<text transform="translate(410.60 202.70) rotate(-30) scale(0.937 1)" font-size="17.4" text-anchor="end" dominant-baseline="central">0</text>
<text transform="translate(454.10 202.70) rotate(-30) scale(0.937 1)" font-size="17.4" text-anchor="end" dominant-baseline="central">200</text>
<text transform="translate(497.60 202.70) rotate(-30) scale(0.937 1)" font-size="17.4" text-anchor="end" dominant-baseline="central">400</text>
<text transform="translate(541.10 202.70) rotate(-30) scale(0.937 1)" font-size="17.4" text-anchor="end" dominant-baseline="central">600</text>
<text transform="translate(584.60 202.70) rotate(-30) scale(0.937 1)" font-size="17.4" text-anchor="end" dominant-baseline="central">800</text>
<text transform="translate(628.10 202.70) rotate(-30) scale(0.937 1)" font-size="17.4" text-anchor="end" dominant-baseline="central">1000</text>
<text transform="translate(671.60 202.70) rotate(-30) scale(0.937 1)" font-size="17.4" text-anchor="end" dominant-baseline="central">1200</text>
<text transform="translate(61.50 482.20) rotate(0.15) scale(0.937 1)" font-size="17.4" text-anchor="middle" dominant-baseline="central">1050</text>
<text transform="translate(146.03 482.20) rotate(0.15) scale(0.937 1)" font-size="17.4" text-anchor="middle" dominant-baseline="central">1150</text>
<text transform="translate(230.57 482.20) rotate(0.15) scale(0.937 1)" font-size="17.4" text-anchor="middle" dominant-baseline="central">1250</text>
<text transform="translate(315.10 482.20) rotate(0.15) scale(0.937 1)" font-size="17.4" text-anchor="middle" dominant-baseline="central">1350</text>
<text transform="translate(414.50 482.20) rotate(0.15) scale(0.937 1)" font-size="17.4" text-anchor="middle" dominant-baseline="central">1050</text>
<text transform="translate(498.63 482.20) rotate(0.15) scale(0.937 1)" font-size="17.4" text-anchor="middle" dominant-baseline="central">1150</text>
<text transform="translate(582.77 482.20) rotate(0.15) scale(0.937 1)" font-size="17.4" text-anchor="middle" dominant-baseline="central">1250</text>
<text transform="translate(666.90 482.20) rotate(0.15) scale(0.937 1)" font-size="17.4" text-anchor="middle" dominant-baseline="central">1350</text>
<text transform="translate(187.30 246.85) rotate(0.15) scale(1.04 1)" font-size="19.2" text-anchor="middle">N</text>
<text transform="translate(536.40 246.15) rotate(0.15) scale(1.04 1)" font-size="19.8" text-anchor="middle">N</text>
<text transform="translate(188.30 510.50) rotate(0.15) scale(1.04 1)" font-size="20.5" text-anchor="middle">N</text>
<text transform="translate(540.70 510.50) rotate(0.15) scale(1.04 1)" font-size="20.5" text-anchor="middle">N</text>
<text transform="translate(14.40 99.20) rotate(-89.85) scale(0.93 1)" font-size="19" text-anchor="middle">A</text>
<text transform="translate(15.90 369.50) rotate(-89.85) scale(0.93 1)" font-size="20" text-anchor="middle">A</text>
<text transform="translate(367.80 98.10) rotate(-89.85) scale(1.05 1)" font-size="19.5" text-anchor="middle">μ</text>
<text transform="translate(367.90 369.10) rotate(-89.85) scale(1.05 1)" font-size="19.5" text-anchor="middle">μ</text>
<text transform="translate(108.80 51.50) rotate(0.15) scale(0.98 1)" font-size="20.7" text-anchor="middle">(a)</text>
<text transform="translate(443.70 51.50) rotate(0.15) scale(0.98 1)" font-size="20.7" text-anchor="middle">(b)</text>
<text transform="translate(89.10 318.00) rotate(0.15) scale(0.98 1)" font-size="20.7" text-anchor="middle">(c)</text>
<text transform="translate(443.40 334.00) rotate(0.15) scale(0.98 1)" font-size="20.7" text-anchor="middle">(d)</text>
</g>
<rect x="66.6" y="14.0" width="59.00" height="21.50" fill="#fff" stroke="#959595" stroke-width="1.05"/>
<line x1="69" y1="24.95" x2="93.7" y2="24.95" stroke="#0000ff" stroke-width="1.7"/>
<circle cx="81.3" cy="24.95" r="1.6" fill="#0000ff"/>
<text transform="translate(96.00 25.20) rotate(0.15) scale(0.96 1)" font-size="17.6" text-anchor="start" dominant-baseline="central" fill="#000">S=0</text>
<rect x="413.6" y="13.9" width="60.00" height="21.50" fill="#fff" stroke="#959595" stroke-width="1.05"/>
<line x1="416.1" y1="24.95" x2="441.2" y2="24.95" stroke="#ff0000" stroke-width="1.7"/>
<circle cx="428.7" cy="24.95" r="1.6" fill="#ff0000"/>
<text transform="translate(443.30 25.20) rotate(0.15) scale(0.96 1)" font-size="17.6" text-anchor="start" dominant-baseline="central" fill="#000">S=0</text>
<rect x="69.4" y="277.9" width="55.40" height="18.40" fill="#fff" stroke="#959595" stroke-width="1.05"/>
<line x1="71.6" y1="287.6" x2="96.2" y2="287.6" stroke="#0000ff" stroke-width="1.7"/>
<circle cx="83.7" cy="287.6" r="2.55" fill="none" stroke="#0000ff" stroke-width="1.7"/>
<text transform="translate(98.20 287.60) rotate(0.15) scale(0.96 1)" font-size="15.7" text-anchor="start" dominant-baseline="central" fill="#000">S=0</text>
<rect x="422.4" y="278.0" width="56.00" height="18.50" fill="#fff" stroke="#959595" stroke-width="1.05"/>
<line x1="424.5" y1="287.6" x2="449.7" y2="287.6" stroke="#ff0000" stroke-width="1.7"/>
<circle cx="437.3" cy="287.6" r="2.55" fill="none" stroke="#ff0000" stroke-width="1.7"/>
<text transform="translate(451.20 287.60) rotate(0.15) scale(0.96 1)" font-size="15.7" text-anchor="start" dominant-baseline="central" fill="#000">S=0</text>
</svg>
</body></html>
